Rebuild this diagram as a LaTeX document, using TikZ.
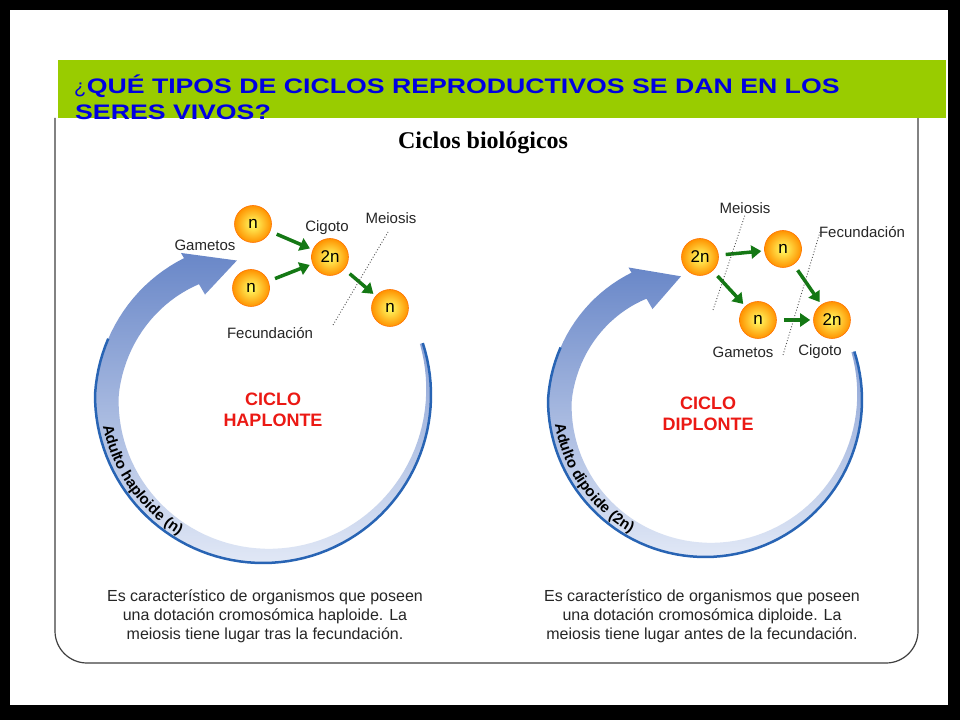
\documentclass[tikz,border=0pt]{standalone}
\usepackage{fontspec}
\setmainfont{Liberation Sans}
\newfontfamily\serifo{Liberation Serif}
\usetikzlibrary{arrows.meta,decorations.text,shapes.geometric}
\definecolor{bandgreen}{RGB}{153,204,0}
\definecolor{hdblue}{RGB}{0,0,225}
\definecolor{ringdark}{RGB}{40,100,180}
\definecolor{ringtop}{RGB}{105,135,200}
\definecolor{ringbot}{RGB}{225,232,246}
\definecolor{cred}{RGB}{235,25,20}
\definecolor{garr}{RGB}{20,120,20}
\tikzset{
  ball/.style={circle,minimum size=37pt,inner sep=0pt,draw=orange!90!red,line width=0.6pt,
    inner color=yellow!60!white,outer color=orange!85!yellow,font=\fontsize{17}{17}\selectfont},
  garrow/.style={line width=3.5pt,garr,-{Triangle[length=10pt,width=13pt]},shorten <=7pt,shorten >=3pt},
  lbl/.style={font=\fontsize{15}{15}\selectfont,text=black!85},
  dots/.style={dotted,line width=0.9pt,black!70},
  cyc/.style={font=\bfseries\fontsize{18}{21}\selectfont,text=cred,align=center},
  capt/.style={font=\fontsize{16}{19}\selectfont,text=black!85,align=center},
  hd/.style={anchor=base west,inner sep=0pt,text=hdblue},
}
\newcommand\ringband[4]{% cx cy R label
  \shade[top color=ringtop,bottom color=ringbot]
    plot[domain=18:-240,samples=90] ({#1+(#3-10*max(0,(-\x-180)/60))*cos(\x)},{#2+(#3-10*max(0,(-\x-180)/60))*sin(\x)})
    -- ({#1+(#3-4)*cos(-240)},{#2+(#3-4)*sin(-240)})
    -- ({#1+(#3-31)*cos(-259)},{#2+(#3-31)*sin(-259)})
    -- ({#1+(#3-52)*cos(-240)},{#2+(#3-52)*sin(-240)})
    -- plot[domain=-240:18,samples=90] ({#1+(#3-10*max(0,(-\x-180)/60)-3-27*(18-\x)/258)*cos(\x)},{#2+(#3-10*max(0,(-\x-180)/60)-3-27*(18-\x)/258)*sin(\x)})
    -- cycle;
  \draw[ringdark,line width=2.5pt]
    plot[domain=18:-200,samples=80] ({#1+(#3-10*max(0,(-\x-180)/60))*cos(\x)},{#2+(#3-10*max(0,(-\x-180)/60))*sin(\x)});
  \path[decorate,decoration={text along path,text align=center,
      text={|\bfseries\fontsize{15}{15}\selectfont|#4}}]
    ({#1+(#3-5)*cos(-186)},{#2+(#3-5)*sin(-186)}) arc[start angle=-186,end angle=-104,radius=#3-5];
}
\begin{document}
\begin{tikzpicture}[x=1pt,y=1pt]
\fill[black] (0,0) rectangle (960,720);
\fill[white] (10,15) rectangle (948,710);
\useasboundingbox (0,0) rectangle (960,720);
% panel
\draw[black!75,line width=1.2pt,rounded corners=32pt] (55,602) -- (55,57) -- (918,57) -- (918,602);
\fill[bandgreen] (58,602) rectangle (946,660);
\node[hd,font=\fontsize{20}{20}\selectfont] (q) at (74,626) {¿};
\node[hd,font=\bfseries\fontsize{21}{21}\selectfont] (h1) at (q.base east) {\scalebox{1.27}[1]{QUÉ TIPOS DE CICLOS REPRODUCTIVOS SE DAN EN LOS}};
\node[hd,font=\bfseries\fontsize{21}{21}\selectfont] (h2) at (75,600) {\scalebox{1.27}[1]{SERES VIVOS?}};
\node[anchor=base,inner sep=0pt,font=\serifo\bfseries\fontsize{24}{24}\selectfont] (title) at (483,571) {Ciclos biológicos};
% left cycle
\ringband{263}{325}{168}{Adulto haploide (n)}
\node[ball] (l1) at (253,496) {n};
\node[ball] (l2) at (251,432) {n};
\node[ball] (lz) at (330,463) {2n};
\node[ball] (l3) at (390,412) {n};
\draw[garrow] (l1) -- (lz);
\draw[garrow] (l2) -- (lz);
\draw[garrow] (lz) -- (l3);
\coordinate (ld1) at (333,395); \coordinate (ld2) at (388,488);
\draw[dots] (ld1) -- (ld2);
\node[lbl] (lg) at (205,475) {Gametos};
\node[lbl] (lc) at (327,492) {Cigoto};
\node[lbl] (lm) at (391,502) {Meiosis};
\node[lbl] (lf) at (270,387) {Fecundación};
\node[cyc] (lt) at (273,310) {CICLO\\HAPLONTE};
% right cycle
\ringband{705}{320}{157}{Adulto dipoide (2n)}
\node[ball] (ra) at (700,463) {2n};
\node[ball] (rb) at (783,471) {n};
\node[ball] (rc) at (758,400) {n};
\node[ball] (rd) at (832,400) {2n};
\draw[garrow] (ra) -- (rb);
\draw[garrow] (ra) -- (rc);
\draw[garrow] (rb) -- (rd);
\draw[garrow] (rc) -- (rd);
\coordinate (rd1) at (713,410); \coordinate (rd2) at (745,505);
\coordinate (rd3) at (783,365); \coordinate (rd4) at (820,488);
\draw[dots] (rd1) -- (rd2);
\draw[dots] (rd3) -- (rd4);
\node[lbl] (rm) at (745,512) {Meiosis};
\node[lbl] (rf) at (862,488) {Fecundación};
\node[lbl] (rg) at (743,368) {Gametos};
\node[lbl] (rcg) at (820,368) {Cigoto};
\node[cyc] (rt) at (708,306) {CICLO\\DIPLONTE};
% captions
\node[capt] (c1) at (265,104) {Es característico de organismos que poseen\\una dotación cromosómica haploide. La\\meiosis tiene lugar tras la fecundación.};
\node[capt] (c2) at (702,104) {Es característico de organismos que poseen\\una dotación cromosómica diploide. La\\meiosis tiene lugar antes de la fecundación.};
\end{tikzpicture}
\end{document}
